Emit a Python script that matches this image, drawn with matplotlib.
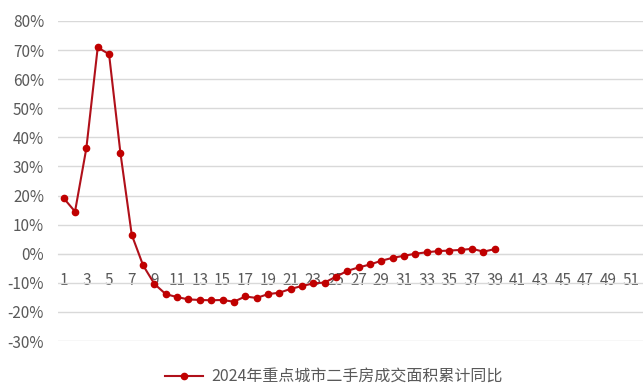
import matplotlib.pyplot as plt
import matplotlib.ticker as mticker

plt.rcParams['font.family'] = ['Noto Sans CJK SC', 'DejaVu Sans']

# Data
weeks = list(range(1, 40))
yoy = [19.1, 14.5, 36.3, 70.9, 68.6, 34.7, 6.5, -4.0, -10.4, -13.9,
       -14.9, -15.7, -15.9, -16.0, -15.9, -16.5, -14.7, -15.2, -13.9, -13.4,
       -12.1, -11.1, -10.2, -9.9, -7.9, -5.9, -4.7, -3.7, -2.4, -1.4,
       -0.7, 0.0, 0.5, 0.9, 1.1, 1.3, 1.7, 0.7, 1.6]
xticks = list(range(1, 52, 2))
label = '2024年重点城市二手房成交面积累计同比'

fig = plt.figure(figsize=(6.43, 3.85), dpi=100)
ax = fig.add_axes([58/643, 1-341/385, 590/643, 320/385])

ax.plot(weeks, yoy, color='#B0101A', lw=1.5, marker='o', ms=4.5,
        markerfacecolor='#C00000', markeredgecolor='#C00000', label=label,
        zorder=3)

ax.set_xlim(0.5, 52.5)
ax.set_ylim(-30, 80)
ax.set_yticks(range(-30, 81, 10))
ax.yaxis.set_major_formatter(mticker.FuncFormatter(lambda v, p: f'{v:.0f}%'))
ax.set_xticks(xticks)
ax.grid(axis='y', color='#D9D9D9', lw=1)
ax.set_axisbelow(True)
for s in ['top', 'right', 'left']:
    ax.spines[s].set_visible(False)
ax.spines['bottom'].set_position(('data', 0))
ax.spines['bottom'].set_color('#D9D9D9')
ax.tick_params(axis='both', length=0, labelsize=11, labelcolor='#595959')
ax.tick_params(axis='y', pad=10)
ax.tick_params(axis='x', pad=13)

fig.legend(loc='center', bbox_to_anchor=(334/643, 1-377/385), frameon=False,
           fontsize=11.5, labelcolor='#595959', handlelength=2.4,
           handletextpad=0.5)

fig.savefig('out.png', dpi=100)
